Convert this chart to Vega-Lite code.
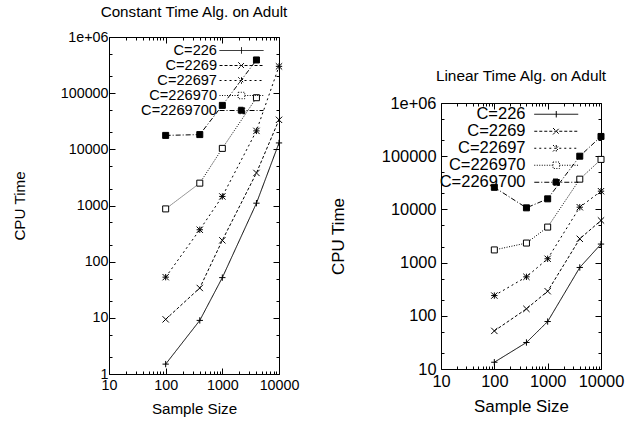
{
  "$schema": "https://vega.github.io/schema/vega-lite/v6.json",
  "padding": {"left": 11, "top": 4, "right": 5, "bottom": 2},
  "spacing": 28,
  "config": {
    "font": "Liberation Sans",
    "view": {"stroke": "black", "strokeWidth": 1},
    "axis": {"domain": false, "grid": false, "tickColor": "black", "labelColor": "black", "titleColor": "black", "titleFontWeight": "normal", "labelFlush": false, "labelOverlap": false, "tickWidth": 1},
    "title": {"fontWeight": "normal", "color": "black"},
    "legend": {"labelColor": "black"}
  },
  "datasets": {
    "constant": [
      {"n": 100, "C": "C=226", "t": 1.5},
      {"n": 400, "C": "C=226", "t": 9},
      {"n": 1000, "C": "C=226", "t": 52},
      {"n": 4000, "C": "C=226", "t": 1100},
      {"n": 10000, "C": "C=226", "t": 13000},
      {"n": 100, "C": "C=2269", "t": 9.4},
      {"n": 400, "C": "C=2269", "t": 34},
      {"n": 1000, "C": "C=2269", "t": 240},
      {"n": 4000, "C": "C=2269", "t": 3800},
      {"n": 10000, "C": "C=2269", "t": 33500},
      {"n": 100, "C": "C=22697", "t": 53},
      {"n": 400, "C": "C=22697", "t": 370},
      {"n": 1000, "C": "C=22697", "t": 1450},
      {"n": 4000, "C": "C=22697", "t": 21300},
      {"n": 10000, "C": "C=22697", "t": 300000},
      {"n": 100, "C": "C=226970", "t": 870},
      {"n": 400, "C": "C=226970", "t": 2500},
      {"n": 1000, "C": "C=226970", "t": 10400},
      {"n": 4000, "C": "C=226970", "t": 83000},
      {"n": 100, "C": "C=2269700", "t": 17700},
      {"n": 400, "C": "C=2269700", "t": 18300},
      {"n": 1000, "C": "C=2269700", "t": 60600},
      {"n": 4000, "C": "C=2269700", "t": 390000}
    ],
    "linear": [
      {"n": 100, "C": "C=226", "t": 13.4},
      {"n": 400, "C": "C=226", "t": 31.5},
      {"n": 1000, "C": "C=226", "t": 78},
      {"n": 4000, "C": "C=226", "t": 810},
      {"n": 10000, "C": "C=226", "t": 2230},
      {"n": 100, "C": "C=2269", "t": 52},
      {"n": 400, "C": "C=2269", "t": 135},
      {"n": 1000, "C": "C=2269", "t": 290},
      {"n": 4000, "C": "C=2269", "t": 2800},
      {"n": 10000, "C": "C=2269", "t": 6200},
      {"n": 100, "C": "C=22697", "t": 240},
      {"n": 400, "C": "C=22697", "t": 540},
      {"n": 1000, "C": "C=22697", "t": 1180},
      {"n": 4000, "C": "C=22697", "t": 11000},
      {"n": 10000, "C": "C=22697", "t": 22000},
      {"n": 100, "C": "C=226970", "t": 1730},
      {"n": 400, "C": "C=226970", "t": 2330},
      {"n": 1000, "C": "C=226970", "t": 4650},
      {"n": 4000, "C": "C=226970", "t": 37000},
      {"n": 10000, "C": "C=226970", "t": 87000},
      {"n": 100, "C": "C=2269700", "t": 26000},
      {"n": 400, "C": "C=2269700", "t": 10700},
      {"n": 1000, "C": "C=2269700", "t": 15800},
      {"n": 4000, "C": "C=2269700", "t": 100000},
      {"n": 10000, "C": "C=2269700", "t": 235000}
    ]
  },
  "hconcat": [
    {
      "title": {"text": "Constant Time Alg. on Adult", "fontSize": 15.2, "offset": 10},
      "width": 170,
      "height": 337,
      "data": {"name": "constant"},
      "layer": [
        {
          "mark": {"type": "line", "color": "black", "strokeWidth": 1},
          "encoding": {
            "x": {"field": "n", "type": "quantitative",
              "scale": {"type": "log", "domain": [10, 10000], "nice": false},
              "axis": {"orient": "bottom", "title": "Sample Size", "titleFontSize": 15.2, "labelFontSize": 14.3,
                "values": [10,20,30,40,50,60,70,80,90,100,200,300,400,500,600,700,800,900,1000,2000,3000,4000,5000,6000,7000,8000,9000,10000],
                "labelExpr": "abs(log(datum.value)/LN10 - round(log(datum.value)/LN10)) < 0.000001 ? format(datum.value, 'd') : ''",
                "tickSize": {"condition": {"test": "abs(log(datum.value)/LN10 - round(log(datum.value)/LN10)) < 0.000001", "value": -6}, "value": -3},
                "labelPadding": 10, "titlePadding": 6}},
            "y": {"field": "t", "type": "quantitative",
              "scale": {"type": "log", "domain": [1, 1000000], "nice": false},
              "axis": {"orient": "left", "title": "CPU Time", "titleFontSize": 15.2, "labelFontSize": 14.3,
                "values": [1,2,5,10,20,50,100,200,500,1000,2000,5000,10000,20000,50000,100000,200000,500000,1000000],
                "labelExpr": "datum.value >= 999999 ? '1e+06' : (abs(log(datum.value)/LN10 - round(log(datum.value)/LN10)) < 0.000001 ? format(datum.value, 'd') : '')",
                "tickSize": {"condition": {"test": "abs(log(datum.value)/LN10 - round(log(datum.value)/LN10)) < 0.000001", "value": -6}, "value": -3},
                "labelPadding": 7, "titlePadding": 33}},
            "strokeDash": {"field": "C", "type": "nominal",
              "scale": {"domain": ["C=226", "C=2269", "C=22697", "C=226970", "C=2269700"], "range": [[1,0],[3,2],[2,3],[1,1.5],[5,2,1,2]]},
              "legend": {"title": null, "orient": "none", "legendX": 125, "legendY": 6, "padding": 0, "rowPadding": -5.9, "labelAlign": "right", "labelOffset": -32, "symbolSize": 196, "symbolStrokeWidth": 1, "symbolStrokeColor": "black", "labelFontSize": 14.6,
                "encode": {"symbols": {"update": {
                  "shape": {"signal": "datum.value === 'C=226' ? 'M-3.14,0H3.14M0,-0.46V0.46' : datum.value === 'C=2269' ? 'M-3.14,0H3.14M-0.46,-0.46L0.46,0.46M-0.46,0.46L0.46,-0.46' : datum.value === 'C=22697' ? 'M-3.14,0H3.14M0,-0.46V0.46M-0.46,-0.46L0.46,0.46M-0.46,0.46L0.46,-0.46' : datum.value === 'C=226970' ? 'M-3.14,0H-0.46M0.46,0H3.14M-0.46,-0.46H0.46V0.46H-0.46Z' : 'M-3.14,0H3.14M-0.46,-0.46H0.46V0.46H-0.46Z'"},
                  "fill": {"signal": "datum.value === 'C=2269700' ? 'black' : 'white'"},
                  "stroke": {"value": "black"}}}}}}
          }
        },
        {
          "transform": [{"filter": "datum.C === 'C=226'"}],
          "mark": {"type": "point", "shape": "M-1,0H1M0,-1V1", "filled": true, "fill": "black", "stroke": "black", "strokeWidth": 1, "size": 40, "opacity": 1},
          "encoding": {
            "x": {"field": "n", "type": "quantitative",
              "scale": {"type": "log", "domain": [10, 10000], "nice": false},
              "axis": {"orient": "top", "title": null, "labels": false,
                "values": [10,20,30,40,50,60,70,80,90,100,200,300,400,500,600,700,800,900,1000,2000,3000,4000,5000,6000,7000,8000,9000,10000],
                "tickSize": {"condition": {"test": "abs(log(datum.value)/LN10 - round(log(datum.value)/LN10)) < 0.000001", "value": -6}, "value": -3}}},
            "y": {"field": "t", "type": "quantitative",
              "scale": {"type": "log", "domain": [1, 1000000], "nice": false},
              "axis": {"orient": "right", "title": null, "labels": false,
                "values": [1,2,5,10,20,50,100,200,500,1000,2000,5000,10000,20000,50000,100000,200000,500000,1000000],
                "tickSize": {"condition": {"test": "abs(log(datum.value)/LN10 - round(log(datum.value)/LN10)) < 0.000001", "value": -6}, "value": -3}}}
          }
        },
        {
          "transform": [{"filter": "datum.C === 'C=2269'"}],
          "mark": {"type": "point", "shape": "M-1,-1L1,1M-1,1L1,-1", "filled": true, "fill": "black", "stroke": "black", "strokeWidth": 1, "size": 40, "opacity": 1},
          "encoding": {
            "x": {"field": "n", "type": "quantitative", "scale": {"type": "log", "domain": [10, 10000], "nice": false}, "axis": null},
            "y": {"field": "t", "type": "quantitative", "scale": {"type": "log", "domain": [1, 1000000], "nice": false}, "axis": null}
          }
        },
        {
          "transform": [{"filter": "datum.C === 'C=22697'"}],
          "mark": {"type": "point", "shape": "M-1,0H1M0,-1V1M-1,-1L1,1M-1,1L1,-1", "filled": true, "fill": "black", "stroke": "black", "strokeWidth": 1, "size": 40, "opacity": 1},
          "encoding": {
            "x": {"field": "n", "type": "quantitative", "scale": {"type": "log", "domain": [10, 10000], "nice": false}, "axis": null},
            "y": {"field": "t", "type": "quantitative", "scale": {"type": "log", "domain": [1, 1000000], "nice": false}, "axis": null}
          }
        },
        {
          "transform": [{"filter": "datum.C === 'C=226970'"}],
          "mark": {"type": "point", "shape": "square", "filled": true, "fill": "white", "stroke": "black", "strokeWidth": 1, "size": 36, "opacity": 1},
          "encoding": {
            "x": {"field": "n", "type": "quantitative", "scale": {"type": "log", "domain": [10, 10000], "nice": false}, "axis": null},
            "y": {"field": "t", "type": "quantitative", "scale": {"type": "log", "domain": [1, 1000000], "nice": false}, "axis": null}
          }
        },
        {
          "transform": [{"filter": "datum.C === 'C=2269700'"}],
          "mark": {"type": "point", "shape": "square", "filled": true, "fill": "black", "stroke": "black", "strokeWidth": 1, "size": 36, "opacity": 1},
          "encoding": {
            "x": {"field": "n", "type": "quantitative", "scale": {"type": "log", "domain": [10, 10000], "nice": false}, "axis": null},
            "y": {"field": "t", "type": "quantitative", "scale": {"type": "log", "domain": [1, 1000000], "nice": false}, "axis": null}
          }
        }
      ],
      "resolve": {"axis": {"x": "independent", "y": "independent"}}
    },
    {
      "spacing": 0,
      "resolve": {"scale": {"strokeDash": "independent"}, "legend": {"strokeDash": "independent"}},
      "vconcat": [
        {
          "width": 160,
          "height": 31,
          "view": {"stroke": null},
          "data": {"values": []},
          "mark": "point"
        },
        {
          "title": {"text": "Linear Time Alg. on Adult", "fontSize": 15.4, "offset": 11},
          "width": 160,
          "height": 266,
          "data": {"name": "linear"},
          "layer": [
            {
              "mark": {"type": "line", "color": "black", "strokeWidth": 1},
              "encoding": {
                "x": {"field": "n", "type": "quantitative",
                  "scale": {"type": "log", "domain": [10, 10000], "nice": false},
                  "axis": {"orient": "bottom", "title": "Sample Size", "titleFontSize": 16.9, "labelFontSize": 16.4,
                    "values": [10,20,30,40,50,60,70,80,90,100,200,300,400,500,600,700,800,900,1000,2000,3000,4000,5000,6000,7000,8000,9000,10000],
                    "labelExpr": "abs(log(datum.value)/LN10 - round(log(datum.value)/LN10)) < 0.000001 ? format(datum.value, 'd') : ''",
                    "tickSize": {"condition": {"test": "abs(log(datum.value)/LN10 - round(log(datum.value)/LN10)) < 0.000001", "value": -6}, "value": -3},
                    "labelPadding": 10, "titlePadding": 6}},
                "y": {"field": "t", "type": "quantitative",
                  "scale": {"type": "log", "domain": [10, 1000000], "nice": false},
                  "axis": {"orient": "left", "title": "CPU Time", "titleFontSize": 16.9, "labelFontSize": 16.4,
                    "values": [10,20,50,100,200,500,1000,2000,5000,10000,20000,50000,100000,200000,500000,1000000],
                    "labelExpr": "datum.value >= 999999 ? '1e+06' : (abs(log(datum.value)/LN10 - round(log(datum.value)/LN10)) < 0.000001 ? format(datum.value, 'd') : '')",
                    "tickSize": {"condition": {"test": "abs(log(datum.value)/LN10 - round(log(datum.value)/LN10)) < 0.000001", "value": -6}, "value": -3},
                    "labelPadding": 11, "titlePadding": 34}},
                "strokeDash": {"field": "C", "type": "nominal",
                  "scale": {"domain": ["C=226", "C=2269", "C=22697", "C=226970", "C=2269700"], "range": [[1,0],[3,2],[2,3],[1,1.5],[5,2,1,2]]},
                  "legend": {"title": null, "orient": "none", "legendX": 107, "legendY": 3, "padding": 0, "rowPadding": -2.3, "labelAlign": "right", "labelOffset": -39, "symbolSize": 196, "symbolStrokeWidth": 1, "symbolStrokeColor": "black", "labelFontSize": 16.5,
                    "encode": {"symbols": {"update": {
                      "shape": {"signal": "datum.value === 'C=226' ? 'M-3.14,0H3.14M0,-0.46V0.46' : datum.value === 'C=2269' ? 'M-3.14,0H3.14M-0.46,-0.46L0.46,0.46M-0.46,0.46L0.46,-0.46' : datum.value === 'C=22697' ? 'M-3.14,0H3.14M0,-0.46V0.46M-0.46,-0.46L0.46,0.46M-0.46,0.46L0.46,-0.46' : datum.value === 'C=226970' ? 'M-3.14,0H-0.46M0.46,0H3.14M-0.46,-0.46H0.46V0.46H-0.46Z' : 'M-3.14,0H3.14M-0.46,-0.46H0.46V0.46H-0.46Z'"},
                      "fill": {"signal": "datum.value === 'C=2269700' ? 'black' : 'white'"},
                      "stroke": {"value": "black"}}}}}}
              }
            },
            {
              "transform": [{"filter": "datum.C === 'C=226'"}],
              "mark": {"type": "point", "shape": "M-1,0H1M0,-1V1", "filled": true, "fill": "black", "stroke": "black", "strokeWidth": 1, "size": 40, "opacity": 1},
              "encoding": {
                "x": {"field": "n", "type": "quantitative",
                  "scale": {"type": "log", "domain": [10, 10000], "nice": false},
                  "axis": {"orient": "top", "title": null, "labels": false,
                    "values": [10,20,30,40,50,60,70,80,90,100,200,300,400,500,600,700,800,900,1000,2000,3000,4000,5000,6000,7000,8000,9000,10000],
                    "tickSize": {"condition": {"test": "abs(log(datum.value)/LN10 - round(log(datum.value)/LN10)) < 0.000001", "value": -6}, "value": -3}}},
                "y": {"field": "t", "type": "quantitative",
                  "scale": {"type": "log", "domain": [10, 1000000], "nice": false},
                  "axis": {"orient": "right", "title": null, "labels": false,
                    "values": [10,20,50,100,200,500,1000,2000,5000,10000,20000,50000,100000,200000,500000,1000000],
                    "tickSize": {"condition": {"test": "abs(log(datum.value)/LN10 - round(log(datum.value)/LN10)) < 0.000001", "value": -6}, "value": -3}}}
              }
            },
            {
              "transform": [{"filter": "datum.C === 'C=2269'"}],
              "mark": {"type": "point", "shape": "M-1,-1L1,1M-1,1L1,-1", "filled": true, "fill": "black", "stroke": "black", "strokeWidth": 1, "size": 40, "opacity": 1},
              "encoding": {
                "x": {"field": "n", "type": "quantitative", "scale": {"type": "log", "domain": [10, 10000], "nice": false}, "axis": null},
                "y": {"field": "t", "type": "quantitative", "scale": {"type": "log", "domain": [10, 1000000], "nice": false}, "axis": null}
              }
            },
            {
              "transform": [{"filter": "datum.C === 'C=22697'"}],
              "mark": {"type": "point", "shape": "M-1,0H1M0,-1V1M-1,-1L1,1M-1,1L1,-1", "filled": true, "fill": "black", "stroke": "black", "strokeWidth": 1, "size": 40, "opacity": 1},
              "encoding": {
                "x": {"field": "n", "type": "quantitative", "scale": {"type": "log", "domain": [10, 10000], "nice": false}, "axis": null},
                "y": {"field": "t", "type": "quantitative", "scale": {"type": "log", "domain": [10, 1000000], "nice": false}, "axis": null}
              }
            },
            {
              "transform": [{"filter": "datum.C === 'C=226970'"}],
              "mark": {"type": "point", "shape": "square", "filled": true, "fill": "white", "stroke": "black", "strokeWidth": 1, "size": 36, "opacity": 1},
              "encoding": {
                "x": {"field": "n", "type": "quantitative", "scale": {"type": "log", "domain": [10, 10000], "nice": false}, "axis": null},
                "y": {"field": "t", "type": "quantitative", "scale": {"type": "log", "domain": [10, 1000000], "nice": false}, "axis": null}
              }
            },
            {
              "transform": [{"filter": "datum.C === 'C=2269700'"}],
              "mark": {"type": "point", "shape": "square", "filled": true, "fill": "black", "stroke": "black", "strokeWidth": 1, "size": 36, "opacity": 1},
              "encoding": {
                "x": {"field": "n", "type": "quantitative", "scale": {"type": "log", "domain": [10, 10000], "nice": false}, "axis": null},
                "y": {"field": "t", "type": "quantitative", "scale": {"type": "log", "domain": [10, 1000000], "nice": false}, "axis": null}
              }
            }
          ],
          "resolve": {"axis": {"x": "independent", "y": "independent"}}
        }
      ]
    }
  ],
  "resolve": {"scale": {"strokeDash": "independent"}, "legend": {"strokeDash": "independent"}}
}
